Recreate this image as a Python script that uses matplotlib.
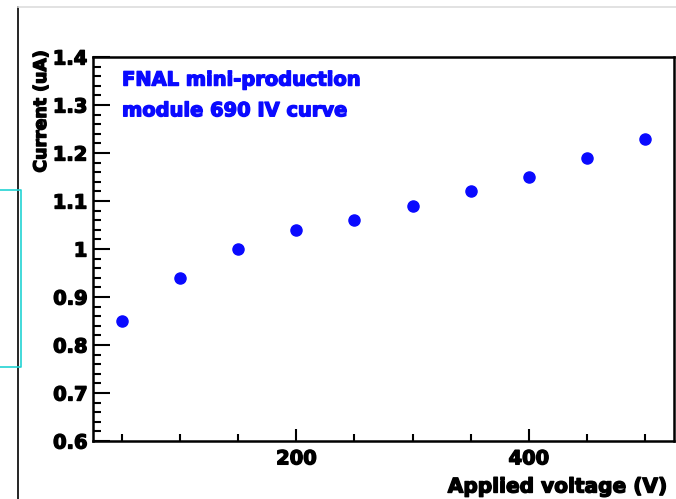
import matplotlib
matplotlib.use("Agg")
import matplotlib.pyplot as plt
import matplotlib.patheffects as pe
from matplotlib.lines import Line2D
from matplotlib.ticker import MultipleLocator

# --- données IV ---
voltage = [50, 100, 150, 200, 250, 300, 350, 400, 450, 500]
current = [0.85, 0.94, 1.00, 1.04, 1.06, 1.09, 1.12, 1.15, 1.19, 1.23]
x_ticks = [200, 400]
y_ticks = [0.6, 0.7, 0.8, 0.9, 1.0, 1.1, 1.2, 1.3, 1.4]
y_labels = ["0.6", "0.7", "0.8", "0.9", "1", "1.1", "1.2", "1.3", "1.4"]

BLUE = "#0a0aff"
plt.rcParams["font.family"] = ["DejaVu Sans"]
plt.rcParams["font.weight"] = "bold"


def heavy(color):
    # épaissit le texte (rendu ROOT très gras)
    return [pe.withStroke(linewidth=1.0, foreground=color)]


fig = plt.figure(figsize=(6.76, 4.99), dpi=100)
ax = fig.add_axes([93 / 676, 58 / 499, 581 / 676, 384 / 499])

ax.plot(voltage, current, "o", color=BLUE, ms=8, mec=BLUE)

ax.set_xlim(25, 525)
ax.set_ylim(0.6, 1.4)
ax.set_xticks(x_ticks)
ax.xaxis.set_minor_locator(MultipleLocator(50))
ax.set_yticks(y_ticks)
ax.set_yticklabels(y_labels)
ax.yaxis.set_minor_locator(MultipleLocator(0.02))

ax.tick_params(which="major", direction="in", width=1.5, labelsize=14)
ax.tick_params(axis="y", which="major", length=12, pad=4)
ax.tick_params(axis="x", which="major", length=9, pad=6)
ax.tick_params(axis="y", which="minor", direction="in", length=6, width=1.5)
ax.tick_params(axis="x", which="minor", direction="in", length=5, width=1.5)
for lab in ax.get_xticklabels() + ax.get_yticklabels():
    lab.set_path_effects(heavy("black"))
for s in ax.spines.values():
    s.set_linewidth(1.8)

ax.text(0.05, 0.94, "FNAL mini-production", transform=ax.transAxes,
        color=BLUE, fontsize=14, fontweight="bold", va="center",
        path_effects=heavy(BLUE))
ax.text(0.05, 0.86, "module 690 IV curve", transform=ax.transAxes,
        color=BLUE, fontsize=14, fontweight="bold", va="center",
        path_effects=heavy(BLUE))

# titres d'axes façon ROOT (alignés sur les bords)
fig.text(668 / 676, 1 - 487 / 499, "Applied voltage (V)", ha="right", va="center",
         fontsize=14.5, fontweight="bold", path_effects=heavy("black"))
fig.text(41 / 676, 1 - 50 / 499, "Current (uA)", rotation=90, ha="center", va="top",
         fontsize=12.5, fontweight="bold", path_effects=heavy("black"))

# cadre de la page
fig.add_artist(Line2D([18 / 676, 18 / 676], [0, 1 - 7 / 499], color="black", lw=1.2))
fig.add_artist(Line2D([18 / 676, 1], [1 - 7 / 499, 1 - 7 / 499], color="#dddddd", lw=1.2))
fig.add_artist(Line2D([0, 20.5 / 676, 20.5 / 676, 0],
                      [1 - 190 / 499, 1 - 190 / 499, 1 - 367 / 499, 1 - 367 / 499],
                      color="#22d3d3", lw=1.2))

fig.savefig("out.png", dpi=100)
